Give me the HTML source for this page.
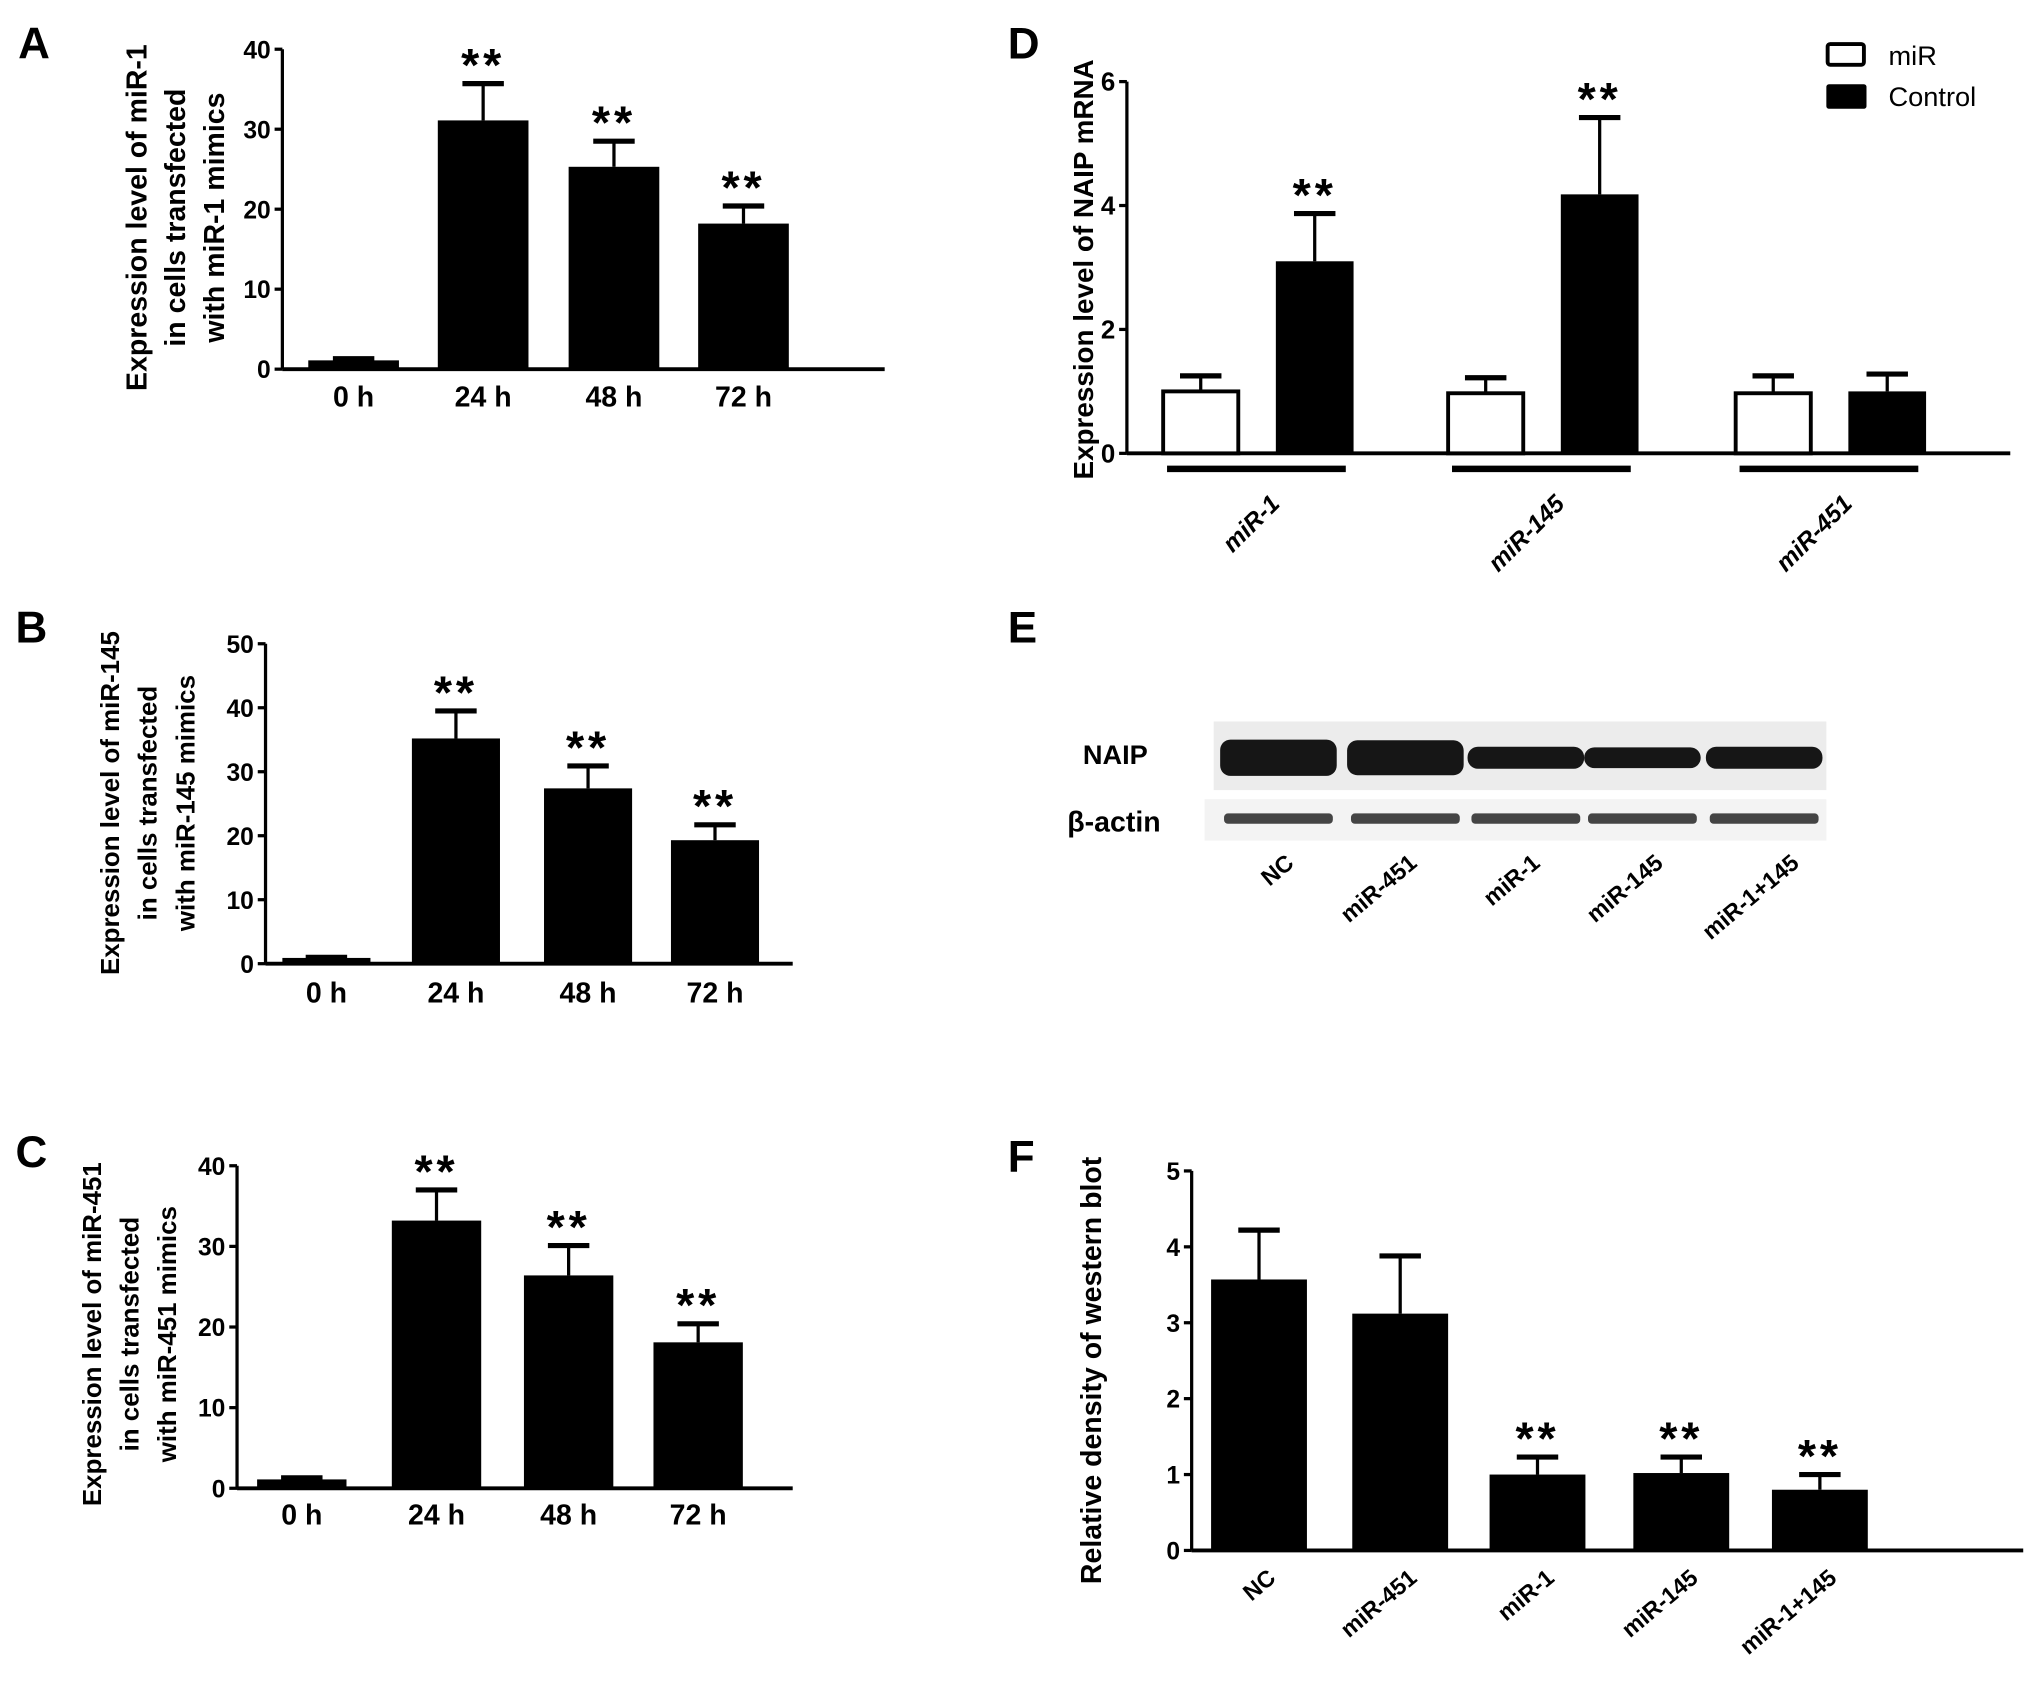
<!DOCTYPE html>
<html><head><meta charset="utf-8"><style>
html,body{margin:0;padding:0;background:#fff}
svg{display:block}
text{font-family:"Liberation Sans",sans-serif;fill:#000}
</style></head><body>
<svg id="fig" width="2031" height="1702" viewBox="0 0 1568 1314" xmlns="http://www.w3.org/2000/svg"></svg>
<script>
// Panel A data
const catsABC = ["0 h","24 h","48 h","72 h"];
const valsA = [1.1, 31.1, 25.3, 18.2];
const errA = [1.3, 35.7, 28.5, 20.4];
const sigA = [false, true, true, true];
const ticksA = [0,10,20,30,40];
// Panel B data
const valsB = [0.9, 35.2, 27.4, 19.3];
const errB = [1.0, 39.5, 30.9, 21.7];
const ticksB = [0,10,20,30,40,50];
// Panel C data
const valsC = [1.1, 33.2, 26.4, 18.1];
const errC = [1.3, 37.0, 30.1, 20.4];
const ticksC = [0,10,20,30,40];
// Panel D data
const groupsD = ["miR-1","miR-145","miR-451"];
const miRD = [1.0, 0.97, 0.97];
const miRErrD = [1.25, 1.22, 1.25];
const ctrlD = [3.1, 4.18, 1.0];
const ctrlErrD = [3.87, 5.42, 1.28];
const ctrlSigD = [true, true, false];
const ticksD = [0,2,4,6];
// Panel E data
const lanesE = ["NC","miR-451","miR-1","miR-145","miR-1+145"];
const naipE = [1.0, 0.95, 0.45, 0.4, 0.45];
// Panel F data
const catsF = ["NC","miR-451","miR-1","miR-145","miR-1+145"];
const valsF = [3.57, 3.12, 1.0, 1.02, 0.8];
const errF = [4.22, 3.88, 1.23, 1.23, 1.0];
const sigF = [false, false, true, true, true];
const ticksF = [0,1,2,3,4,5];

const svg = document.getElementById('fig');
const NS = "http://www.w3.org/2000/svg";
function mk(tag, attrs, parent){
  const e = document.createElementNS(NS, tag);
  for (const k in attrs) e.setAttribute(k, attrs[k]);
  (parent||svg).appendChild(e);
  return e;
}
function txt(s, x, y, size, parent, extra){
  const t = mk('text', Object.assign({x:x, y:y, 'font-size':size, 'font-weight':'bold'}, extra||{}), parent);
  t.textContent = s;
  return t;
}

function panel(cfg){
  const g = mk('g', {});
  
  
  const ys = v => cfg.y0 - (v / cfg.max) * (cfg.y0 - cfg.yTop);
  const L = txt(cfg.letter, cfg.lx, cfg.ly, 34, g);
  
  
  const ya = mk('line', {x1:cfg.ax, y1:cfg.yTop, x2:cfg.ax, y2:cfg.y0, stroke:'#000', 'stroke-width':2.5}, g);
  
  
  const xa = mk('line', {x1:cfg.ax, y1:cfg.y0, x2:cfg.xEnd, y2:cfg.y0, stroke:'#000', 'stroke-width':3}, g);
  
  
  cfg.ticks.forEach(t => {
    const y = ys(t);
    mk('line', {x1:cfg.ax-6, y1:y, x2:cfg.ax, y2:y, stroke:'#000', 'stroke-width':2.5}, g);
    const tl = txt(String(t), cfg.ax-9, y+7, cfg.tickSize||19, g, {'text-anchor':'end'});
    
    
  });
  const tg = mk('g', {transform:`translate(${cfg.tx},${cfg.ty}) rotate(-90)`}, g);
  
  
  cfg.title.forEach((line, i) => {
    txt(line, 0, i*cfg.tlh, cfg.tsize, tg, {'text-anchor':'middle'});
  });
  return {g, ys};
}

function barSet(g, ys, cfg, vals, errs, sigs, fill, barW, xs){
  vals.forEach((v, i) => {
    const cx = xs[i];
    const top = ys(v), et = ys(errs[i]);
    mk('line', {x1:cx, y1:top, x2:cx, y2:et, stroke:'#000', 'stroke-width':2.5}, g);
    mk('line', {x1:cx-16, y1:et, x2:cx+16, y2:et, stroke:'#000', 'stroke-width':4}, g);
    const r = mk('rect', {x:cx-barW/2, y:top, width:barW, height:cfg.y0-top, fill:fill, stroke:'#000', 'stroke-width':fill==='#fff'?3:0}, g);
    
    
    if (sigs[i]) {
      const s = txt('**', cx, et-2, 36, g, {'text-anchor':'middle', 'letter-spacing':'3'});
      
      
    }
  });
}

// ---- Panel A ----
(function(){
  const cfg = {name:'panel-a', letter:'A', lx:14, ly:45, ax:218, y0:285, yTop:38, max:40, xEnd:683, ticks:ticksA,
    title:["Expression level of miR-1","in cells transfected","with miR-1 mimics"], tx:113, ty:168, tlh:30, tsize:22};
  const p = panel(cfg);
  const xs = [273, 373, 474, 574];
  barSet(p.g, p.ys, cfg, valsA, errA, sigA, '#000', 70, xs);
  catsABC.forEach((c,i)=>{ const t=txt(c, xs[i], 314, 22, p.g, {'text-anchor':'middle'});
      });
})();
// ---- Panel B ----
(function(){
  const cfg = {name:'panel-b', letter:'B', lx:12, ly:496, ax:205, y0:744, yTop:497, max:50, xEnd:612, ticks:ticksB,
    title:["Expression level of miR-145","in cells transfected","with miR-145 mimics"], tx:92, ty:620, tlh:29, tsize:20};
  const p = panel(cfg);
  const xs = [252, 352, 454, 552];
  barSet(p.g, p.ys, cfg, valsB, errB, sigA, '#000', 68, xs);
  catsABC.forEach((c,i)=>{ const t=txt(c, xs[i], 774, 22, p.g, {'text-anchor':'middle'});
      });
})();
// ---- Panel C ----
(function(){
  const cfg = {name:'panel-c', letter:'C', lx:12, ly:901, ax:183, y0:1149, yTop:900, max:40, xEnd:612, ticks:ticksC,
    title:["Expression level of miR-451","in cells transfected","with miR-451 mimics"], tx:78, ty:1030, tlh:29, tsize:20};
  const p = panel(cfg);
  const xs = [233, 337, 439, 539];
  barSet(p.g, p.ys, cfg, valsC, errC, sigA, '#000', 69, xs);
  catsABC.forEach((c,i)=>{ const t=txt(c, xs[i], 1177, 22, p.g, {'text-anchor':'middle'});
      });
})();
// ---- Panel D ----
(function(){
  const cfg = {name:'panel-d', letter:'D', lx:778, ly:45, ax:870, y0:350, yTop:63, max:6, xEnd:1552, ticks:ticksD, tickSize:20,
    title:["Expression level of NAIP mRNA"], tx:844, ty:208, tlh:0, tsize:21.5};
  const p = panel(cfg);
  const gx = [971, 1191, 1413];
  const wx = gx.map(x=>x-44), bx = gx.map(x=>x+44);
  barSet(p.g, p.ys, cfg, miRD, miRErrD, [false,false,false], '#fff', 58, wx);
  barSet(p.g, p.ys, cfg, ctrlD, ctrlErrD, ctrlSigD, '#000', 60, bx);
  groupsD.forEach((c,i)=>{
    mk('line',{x1:gx[i]-70,y1:362,x2:gx[i]+68,y2:362,stroke:'#000','stroke-width':5},p.g);
    const t=txt(c, gx[i]+18, 390, 19, p.g, {'text-anchor':'end','font-style':'italic',transform:`rotate(-45 ${gx[i]+18} 390)`});
     
  });
  const lg = mk('g',{},p.g);
  
  
  mk('rect',{x:1411,y:34,width:28,height:16,fill:'#fff',stroke:'#000','stroke-width':3,rx:2},lg);
  txt('miR',1458,50,21,lg,{'font-weight':'normal'});
  mk('rect',{x:1410,y:65,width:31,height:19,fill:'#000',rx:2},lg);
  txt('Control',1458,82,21,lg,{'font-weight':'normal'});
})();
// ---- Panel E ----
(function(){
  const g = mk('g',{});
  
  
  txt('E',778,496,34,g);
  mk('rect',{x:937,y:557,width:473,height:53,fill:'#ececec'},g);
  mk('rect',{x:930,y:617,width:480,height:32,fill:'#f3f3f3'},g);
  txt('NAIP',836,590,21,g);
  txt('β-actin',824,642,22,g);
  const lx = [987, 1085, 1178, 1268, 1362];
  naipE.forEach((v,i)=>{
    const h = 8 + 20*v;
    const b = mk('rect',{x:lx[i]-45,y:585-h/2,width:90,height:h,fill:'#161616',rx:8},g);
    
    
    mk('rect',{x:lx[i]-42,y:628,width:84,height:8,fill:'#444',rx:3},g);
  });
  const labX = [1000, 1095, 1190, 1285, 1390];
  lanesE.forEach((c,i)=>{
    const t=txt(c, labX[i], 668, 18, g, {'text-anchor':'end',transform:`rotate(-40 ${labX[i]} 668)`});
     
  });
})();
// ---- Panel F ----
(function(){
  const cfg = {name:'panel-f', letter:'F', lx:778, ly:905, ax:920, y0:1197, yTop:904, max:5, xEnd:1562, ticks:ticksF,
    title:["Relative  density of western blot"], tx:850, ty:1058, tlh:0, tsize:22};
  const p = panel(cfg);
  const xs = [972, 1081, 1187, 1298, 1405];
  barSet(p.g, p.ys, cfg, valsF, errF, sigF, '#000', 74, xs);
  catsF.forEach((c,i)=>{ const t=txt(c, xs[i]+14, 1220, 18, p.g, {'text-anchor':'end',transform:`rotate(-40 ${xs[i]+14} 1220)`});
      });
})();
</script>
</body></html>
